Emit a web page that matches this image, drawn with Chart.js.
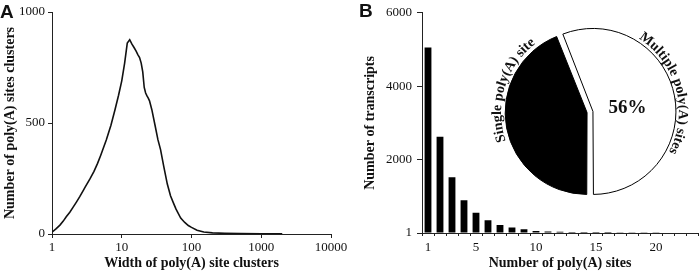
<!DOCTYPE html>
<html>
<head>
<meta charset="utf-8">
<script src="https://cdn.jsdelivr.net/npm/chart.js@4.4.1/dist/chart.umd.min.js"></script>
<style>
  html,body{margin:0;padding:0;background:#fff;}
  #wrap{position:relative;width:700px;height:273px;overflow:hidden;background:#fff;}
  .box{position:absolute;}
  .lbl{position:absolute;font-family:'Liberation Sans',Arial,sans-serif;font-weight:bold;font-size:19px;line-height:19px;color:#111;}
</style>
</head>
<body>
<div id="wrap">
  <div class="box" style="left:0;top:0;width:350px;height:273px"><canvas id="ca" width="350" height="273" style="width:350px;height:273px"></canvas></div>
  <div class="box" style="left:350px;top:0;width:350px;height:273px"><canvas id="cb" width="350" height="273" style="width:350px;height:273px"></canvas></div>
  <div class="box" style="left:480px;top:10px;width:220px;height:204px"><canvas id="cp" width="220" height="204" style="width:220px;height:204px"></canvas></div>
  <div class="lbl" style="left:0px;top:2px">A</div>
  <div class="lbl" style="left:359px;top:1px">B</div>
</div>
<script>
// ---------- Panel A data ----------
const clusterWidths = [1,1.15,1.3,1.45,1.6,1.8,2,2.25,2.5,2.8,3,3.5,4,4.5,5,6,7,8,9,10,11,12,13,14,15,16,17,18,19,20,21,22,23,24,25,27,30,33,36,40,45,50,55,60,70,80,90,100,120,150,200,300,500,1000,2000];
const clusterCounts = [8,24,40,58,78,98,120,145,168,195,212,248,282,318,355,423,490,560,625,690,770,860,875,855,840,825,808,795,770,730,660,635,622,612,600,560,490,425,380,305,225,172,140,112,72,52,38,30,17,9,5,3,2,1,1];
const xTicksA = [1,10,100,1000,10000];
const yTicksA = [0,500,1000];

// ---------- Panel B data ----------
const nSites = ['1','2','3','4','5','6','7','8','9','10','11','12','13','14','15','16','17','18','19','20','21','22','23'];
const transcripts = [5054,2620,1520,890,550,350,216,150,100,55,40,35,30,28,26,24,22,20,19,18,17,16,15];
const xTickLabelsB = ['1','5','10','15','20'];
const yTickLabelsB = ['1','2000','4000','6000'];

// ---------- Pie data ----------
const pieLabels = ['Multiple poly(A) sites','Single poly(A) site'];
const pieShares = [56,44];

const SERIF = "'Liberation Serif','Times New Roman',serif";
const INK = '#111';
const AX = '#222';

// ---------- Panel A ----------
new Chart(document.getElementById('ca'), {
  type: 'line',
  data: {
    datasets: [{
      data: clusterWidths.map((w, i) => ({x: w, y: clusterCounts[i]})),
      borderColor: INK, borderWidth: 1.6, pointRadius: 0, tension: 0, fill: false
    }]
  },
  options: {
    responsive: false, animation: false, events: [],
    layout: {padding: {left: 0, top: 12, right: 19, bottom: 0}},
    plugins: {legend: {display: false}, tooltip: {enabled: false}},
    scales: {
      x: {
        type: 'logarithmic', min: xTicksA[0], max: xTicksA[xTicksA.length - 1],
        afterBuildTicks: s => { s.ticks = xTicksA.map(v => ({value: v})); },
        afterFit: s => { s.height = 39; },
        ticks: {callback: v => String(v), font: {family: SERIF, size: 13}, color: INK, padding: 2, maxRotation: 0, autoSkip: false},
        grid: {drawOnChartArea: false, drawTicks: true, tickLength: 4, color: AX},
        border: {color: AX, width: 1},
        title: {display: true, text: 'Width of poly(A) site clusters', font: {family: SERIF, size: 14, weight: 'bold'}, color: INK, padding: {top: 0, bottom: 1}}
      },
      y: {
        min: yTicksA[0], max: yTicksA[yTicksA.length - 1],
        afterBuildTicks: s => { s.ticks = yTicksA.map(v => ({value: v})); },
        afterFit: s => { s.width = 52; },
        ticks: {callback: v => String(v), font: {family: SERIF, size: 13}, color: INK, padding: 3},
        grid: {drawOnChartArea: false, drawTicks: true, tickLength: 4, color: AX},
        border: {color: AX, width: 1},
        title: {display: true, text: 'Number of poly(A) sites clusters', font: {family: SERIF, size: 14, weight: 'bold'}, color: INK, padding: {top: 2, bottom: 0}}
      }
    }
  }
});

// ---------- Panel B ----------
new Chart(document.getElementById('cb'), {
  type: 'bar',
  data: {
    labels: nSites,
    datasets: [{data: transcripts, backgroundColor: '#000', barPercentage: 0.57, categoryPercentage: 1}]
  },
  options: {
    responsive: false, animation: false, events: [],
    layout: {padding: {left: 10, top: 11, right: 2, bottom: 0}},
    plugins: {legend: {display: false}, tooltip: {enabled: false}},
    scales: {
      x: {
        afterFit: s => { s.height = 40; },
        ticks: {autoSkip: false, maxRotation: 0, callback: (v, i) => xTickLabelsB.includes(nSites[i]) ? nSites[i] : '', font: {family: SERIF, size: 13}, color: INK, padding: 4},
        grid: {drawOnChartArea: false, drawTicks: true, tickLength: 3, color: AX, offset: true},
        border: {color: AX, width: 1},
        title: {display: true, text: 'Number of poly(A) sites', font: {family: SERIF, size: 14, weight: 'bold'}, color: INK, padding: {top: 0, bottom: 1}}
      },
      y: {
        min: 0, max: 6000,
        afterFit: s => { s.width = 62; },
        ticks: {stepSize: 2000, callback: (v, i) => yTickLabelsB[i], font: {family: SERIF, size: 13}, color: INK, padding: 5},
        grid: {drawOnChartArea: false, drawTicks: true, tickLength: 5, color: AX},
        border: {color: AX, width: 1},
        title: {display: true, text: 'Number of transcripts', font: {family: SERIF, size: 14, weight: 'bold'}, color: INK, padding: {top: 2, bottom: 0}}
      }
    }
  }
});

// ---------- Pie inset ----------
function drawArcText(ctx, text, cx, cy, r, centerDeg, font) {
  ctx.save();
  ctx.font = font;
  ctx.fillStyle = INK;
  ctx.textAlign = 'center';
  ctx.textBaseline = 'alphabetic';
  const total = ctx.measureText(text).width;
  let a = centerDeg * Math.PI / 180 - total / 2 / r;
  for (const ch of text) {
    const w = ctx.measureText(ch).width;
    const mid = a + w / 2 / r;
    ctx.save();
    ctx.translate(cx + r * Math.sin(mid), cy - r * Math.cos(mid));
    ctx.rotate(mid);
    ctx.fillText(ch, 0, 0);
    ctx.restore();
    a += w / r;
  }
  ctx.restore();
}

const pieTextPlugin = {
  id: 'pieText',
  afterDatasetsDraw(chart, args, opts) {
    const ctx = chart.ctx;
    const meta = chart.getDatasetMeta(0);
    meta.data.forEach((arc, i) => {
      const p = arc.getProps(['x', 'y', 'startAngle', 'endAngle', 'outerRadius'], true);
      const mid = (p.startAngle + p.endAngle) / 2;
      const off = (arc.options.offset || 0) / 4;
      const cx = p.x + Math.cos(mid) * off;
      const cy = p.y + Math.sin(mid) * off;
      drawArcText(ctx, pieLabels[i], cx, cy, p.outerRadius + opts.gap, opts.centers[i], 'bold 14px ' + SERIF);
      if (i === 0) {
        ctx.save();
        ctx.font = 'bold 19px ' + SERIF;
        ctx.fillStyle = INK;
        ctx.textAlign = 'center';
        ctx.textBaseline = 'middle';
        ctx.fillText(pieShares[0] + '%', cx + Math.cos(mid) * p.outerRadius * 0.44, cy + Math.sin(mid) * p.outerRadius * 0.44 + 3);
        ctx.restore();
      }
    });
  }
};

new Chart(document.getElementById('cp'), {
  type: 'pie',
  data: {
    labels: pieLabels,
    datasets: [{data: pieShares, backgroundColor: ['#fff', '#000'], borderColor: '#000', borderWidth: 1, offset: 12}]
  },
  options: {
    responsive: false, animation: false, events: [],
    rotation: 180 - pieShares[0] * 3.6,
    radius: 80,
    plugins: {legend: {display: false}, tooltip: {enabled: false}, pieText: {gap: 6, centers: [75, 287]}}
  },
  plugins: [pieTextPlugin]
});
</script>
</body>
</html>
